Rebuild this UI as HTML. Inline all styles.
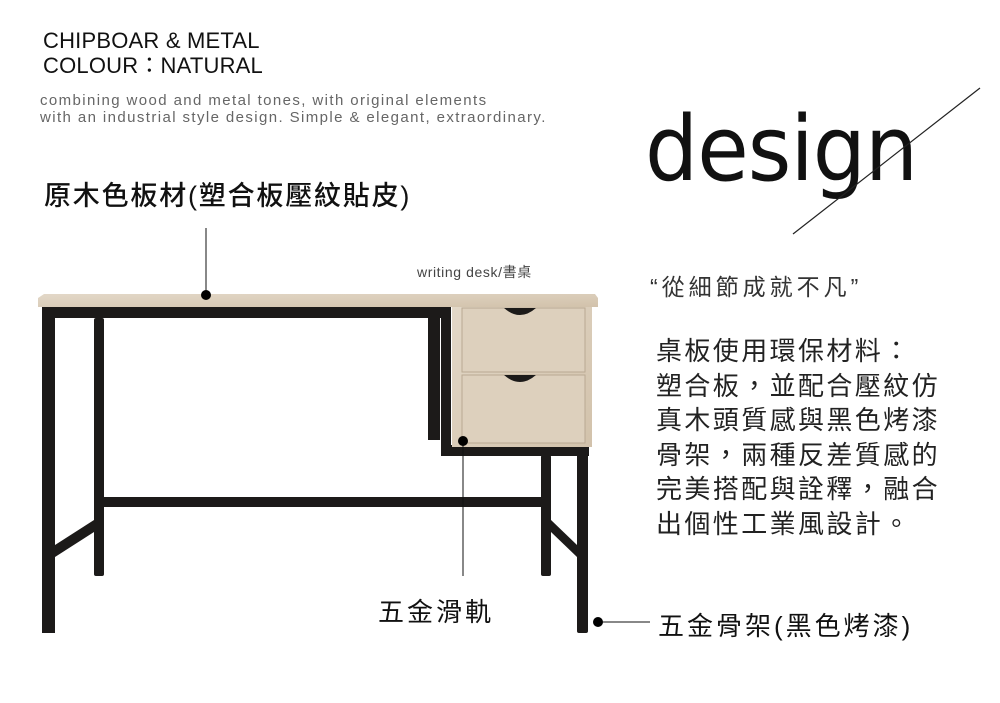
<!DOCTYPE html>
<html><head><meta charset="utf-8"><style>
body{margin:0;width:1000px;height:703px;background:#fff;position:relative;overflow:hidden;font-family:"Liberation Sans","Noto Sans CJK TC",sans-serif;}
.t{position:absolute;white-space:nowrap;color:#111;}
</style></head><body>
<div class="t" style="left:43px;top:28px;font-size:22px;line-height:25px;letter-spacing:0.2px">CHIPBOAR &amp; METAL<br>COLOUR：NATURAL</div>
<div class="t" style="left:40px;top:92px;font-size:15px;line-height:17px;color:#666;letter-spacing:1.4px">combining wood and metal tones, with original elements<br>with an industrial style design. Simple &amp; elegant, extraordinary.</div>
<div class="t" style="left:44px;top:180px;font-size:27px;line-height:32px;font-weight:500;letter-spacing:1.8px">原木色板材(塑合板壓紋貼皮)</div>
<div class="t" style="left:645px;top:95px;font-size:90px;line-height:110px;font-weight:400;font-family:'DejaVu Sans','Liberation Sans',sans-serif;letter-spacing:-1px;transform:scaleX(0.93);transform-origin:left">design</div>
<div class="t" style="left:417px;top:262px;font-size:14px;color:#444;letter-spacing:0.6px">writing desk/書桌</div>
<div class="t" style="left:650px;top:268px;font-size:23px;color:#333;letter-spacing:4px">“從細節成就不凡”</div>
<div class="t" style="left:656px;top:334px;font-size:26px;line-height:34.6px;letter-spacing:2.4px;color:#222">桌板使用環保材料：<br>塑合板，並配合壓紋仿<br>真木頭質感與黑色烤漆<br>骨架，兩種反差質感的<br>完美搭配與詮釋，融合<br>出個性工業風設計。</div>
<div class="t" style="left:378px;top:592px;font-size:26px;letter-spacing:3px">五金滑軌</div>
<div class="t" style="left:658px;top:606px;font-size:26px;letter-spacing:3px">五金骨架(黑色烤漆)</div>
<svg width="1000" height="703" style="position:absolute;left:0;top:0">
<line x1="793" y1="234" x2="980" y2="88" stroke="#222" stroke-width="1.2"/>
<defs><linearGradient id="w" x1="0" y1="0" x2="1" y2="1"><stop offset="0" stop-color="#e3d8c8"/><stop offset="1" stop-color="#d2c2ab"/></linearGradient></defs>
<g fill="#1c1a19">
<rect x="42" y="305" width="13" height="328"/>
<rect x="42" y="307" width="400" height="11"/>
<rect x="94" y="318" width="10" height="258" rx="2"/>
<rect x="428" y="318" width="12" height="122"/>
<rect x="441" y="300" width="10" height="155"/>
<rect x="441" y="445" width="148" height="11"/>
<rect x="577" y="445" width="11" height="188" rx="2"/>
<rect x="541" y="455" width="10" height="121" rx="2"/>
<rect x="104" y="497" width="437" height="10"/>
<polygon points="55,545 94,520 94,532 55,557"/>
<polygon points="551,520 577,545 577,557 551,532"/>
</g>
<rect x="452" y="305" width="140" height="142" fill="url(#w)"/>
<rect x="462" y="308" width="123" height="64" fill="#ddd0bd" stroke="#b9a992" stroke-width="1"/>
<rect x="462" y="375" width="123" height="68" fill="#ddd0bd" stroke="#b9a992" stroke-width="1"/>
<path d="M504 308 Q520 322 536 308Z" fill="#1c1a19"/>
<path d="M504 375 Q520 389 536 375Z" fill="#1c1a19"/>
<polygon points="38,298 44,294 595,294 598,298 598,307 38,307" fill="url(#w)"/>
<line x1="206" y1="228" x2="206" y2="295" stroke="#111"/>
<circle cx="206" cy="295" r="5" fill="#000"/>
<line x1="463" y1="440" x2="463" y2="576" stroke="#111"/>
<circle cx="463" cy="441" r="5" fill="#000"/>
<line x1="598" y1="622" x2="650" y2="622" stroke="#111"/>
<circle cx="598" cy="622" r="5" fill="#000"/>
</svg>
</body></html>
